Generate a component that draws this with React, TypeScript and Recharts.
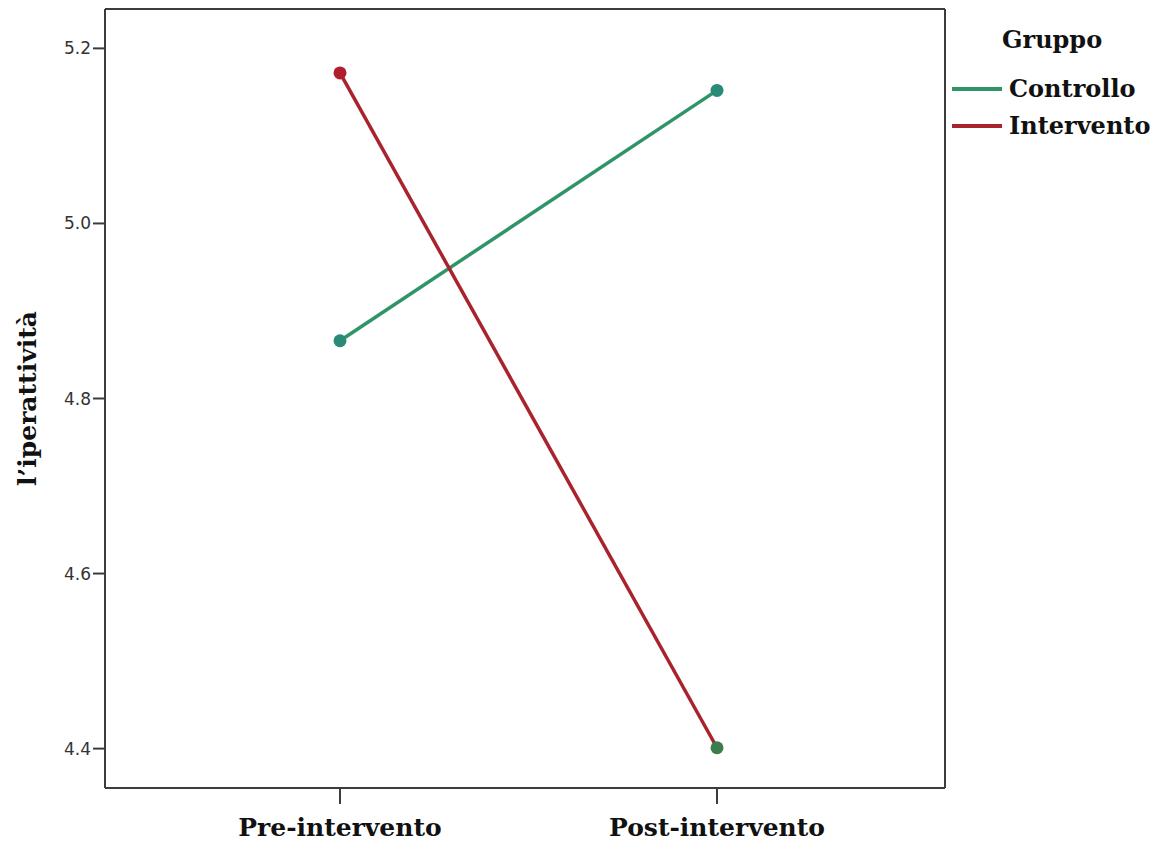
import { LineChart, Line, XAxis, YAxis, CartesianGrid } from "recharts"

const phases = ["Pre-intervento", "Post-intervento"]
const controllo = [4.866, 5.152]
const intervento = [5.172, 4.401]
const yTicks = [4.4, 4.6, 4.8, 5.0, 5.2]
const yDomain = [4.355, 5.245]

const GREEN = "#2f9466"
const RED = "#a8232d"
// SPSS draws the last Intervento marker in green
const interventoDots = ["#b01e2c", "#3b7d4c"]
const controlloDot = "#2a8a78"

const data = phases.map((p, i) => ({
  phase: p,
  Controllo: controllo[i],
  Intervento: intervento[i],
}))

const AXIS = "#3c3c3c"
const SERIF = "'DejaVu Serif', 'Liberation Serif', serif"

const makeDot = (colors: string[] | string) => (props: any) => {
  const { cx, cy, index } = props
  const fill = Array.isArray(colors) ? colors[index] : colors
  return <circle key={index} cx={cx} cy={cy} r={6.5} fill={fill} stroke="none" />
}

const LegendBox = () => (
  <div
    style={{
      position: "absolute",
      left: 952,
      top: 25,
      fontFamily: SERIF,
      fontWeight: "bold",
      fontSize: 24,
      color: "#111",
      lineHeight: "30px",
    }}
  >
    <div style={{ marginLeft: 50, marginBottom: 15 }}>Gruppo</div>
    {[
      ["Controllo", GREEN],
      ["Intervento", RED],
    ].map(([name, c]) => (
      <div key={name} style={{ display: "flex", alignItems: "center", height: 37 }}>
        <span style={{ display: "inline-block", width: 50, height: 4, background: c, marginRight: 7 }} />
        <span>{name}</span>
      </div>
    ))}
  </div>
)

const App = () => {
  return (
    <div style={{ position: "absolute", left: 0, top: 0, width: 1155, height: 844, background: "#fff" }}>
      <LineChart width={1155} height={844} data={data} margin={{ top: 9, right: 210, bottom: 0, left: 0 }}>
        {/* top and right frame of the plot area */}
        <CartesianGrid
          stroke={AXIS}
          strokeWidth={2}
          horizontalCoordinatesGenerator={({ offset }: any) => [offset.top]}
          verticalCoordinatesGenerator={({ offset }: any) => [offset.left + offset.width]}
        />
        <XAxis
          dataKey="phase"
          height={56}
          padding={{ left: 235, right: 228 }}
          axisLine={{ stroke: AXIS, strokeWidth: 2 }}
          tickLine={{ stroke: AXIS, strokeWidth: 2 }}
          tickSize={16}
          tick={{ fill: "#111", fontFamily: SERIF, fontWeight: "bold", fontSize: 25 }}
          tickMargin={14}
        />
        <YAxis
          width={105}
          domain={yDomain}
          ticks={yTicks}
          tickFormatter={(v: number) => v.toFixed(1)}
          axisLine={{ stroke: AXIS, strokeWidth: 2 }}
          tickLine={{ stroke: AXIS, strokeWidth: 2 }}
          tickSize={12}
          tickMargin={2}
          tick={{ fill: "#333", fontFamily: "'DejaVu Sans', sans-serif", fontSize: 17 }}
          label={{
            content: (p: any) => {
              const vb = p.viewBox
              const y = vb.y + vb.height / 2
              return (
                <text
                  x={27}
                  y={y}
                  transform={`rotate(-90, 27, ${y})`}
                  textAnchor="middle"
                  dominantBaseline="central"
                  fontFamily={SERIF}
                  fontWeight="bold"
                  fontSize={25}
                  fill="#111"
                >
                  l’iperattività
                </text>
              )
            },
          }}
        />
        <Line
          dataKey="Controllo"
          stroke={GREEN}
          strokeWidth={3.5}
          dot={makeDot(controlloDot)}
          activeDot={false}
          isAnimationActive={false}
        />
        <Line
          dataKey="Intervento"
          stroke={RED}
          strokeWidth={3.5}
          dot={makeDot(interventoDots)}
          activeDot={false}
          isAnimationActive={false}
        />
      </LineChart>
      <LegendBox />
    </div>
  )
}

export default App
